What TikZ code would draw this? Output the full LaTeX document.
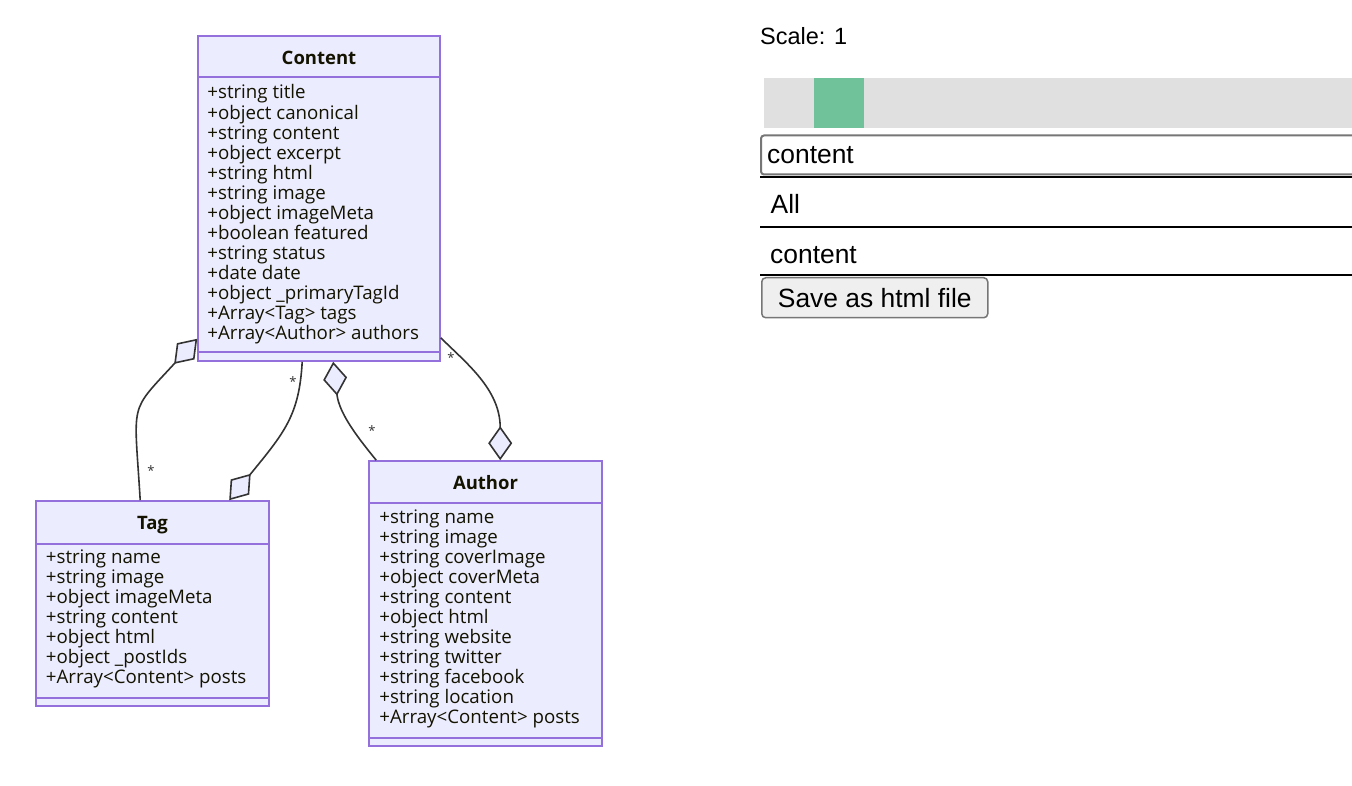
\documentclass[tikz,border=0pt]{standalone}
\usepackage{fontspec}
\setmainfont{Open Sans}
\newfontfamily\uifont{Liberation Sans}
\usepackage{tikz}
\usetikzlibrary{arrows.meta,positioning,calc,fit}

\definecolor{classfill}{HTML}{ECECFF}
\definecolor{classborder}{HTML}{9370DB}
\definecolor{classtext}{HTML}{131300}
\definecolor{linkgray}{HTML}{333333}
\definecolor{bargray}{HTML}{E0E0E0}
\definecolor{barsel}{RGB}{112,194,155}
\definecolor{fieldgray}{HTML}{767676}
\definecolor{buttonfill}{HTML}{EFEFEF}

\begin{document}
\begin{tikzpicture}[
        x=1pt, y=-1pt,
        classbox/.style={rectangle, draw=classborder, fill=classfill, line width=1.6pt, inner sep=0pt},
        classline/.style={draw=classborder, line width=1.6pt},
        classtitle/.style={font=\bfseries\fontsize{18.5}{20}\selectfont, text=classtext, inner sep=0pt, anchor=base},
        attrs/.style={font=\fontsize{18.7}{20}\selectfont, text=classtext, align=left, inner sep=0pt, anchor=north west},
        link/.style={draw=linkgray, line width=1.6pt},
        agg/.style={link, -{Diamond[length=34pt, width=24pt, fill=classfill]}},
        card/.style={font=\fontsize{13}{13}\selectfont, text=linkgray, inner sep=0pt},
        uitext/.style={font=\uifont\fontsize{26.4}{30}\selectfont, inner sep=0pt, anchor=base west},
        uibutton/.style={draw=fieldgray, fill=buttonfill, line width=1.5pt, rounded corners=4pt, font=\uifont\fontsize{26.4}{30}\selectfont, inner sep=0pt},
        sepline/.style={draw=black, line width=2.2pt}
    ]
        \clip (0,0) rectangle (1352,786);
        \fill[white] (0,0) rectangle (1352,786);

        % Classes
        \node[classbox, fit={(198,36) (440,361)}] (content) {};
        \node[classbox, fit={(36,501) (269,706)}] (tag) {};
        \node[classbox, fit={(369,461) (602,746)}] (author) {};

        \draw[classline] ($(content.north west)+(0,42)$) -- ($(content.north east)+(0,42)$);
        \draw[classline] ($(content.south west)+(0,-10)$) -- ($(content.south east)+(0,-10)$);
        \draw[classline] ($(tag.north west)+(0,44)$) -- ($(tag.north east)+(0,44)$);
        \draw[classline] ($(tag.south west)+(0,-9)$) -- ($(tag.south east)+(0,-9)$);
        \draw[classline] ($(author.north west)+(0,43)$) -- ($(author.north east)+(0,43)$);
        \draw[classline] ($(author.south west)+(0,-9)$) -- ($(author.south east)+(0,-9)$);

        \node[classtitle] (contentTitle) at ($(content.north)+(0,29.3)$) {Content};
        \node[classtitle] (tagTitle) at ($(tag.north)+(0,29.7)$) {Tag};
        \node[classtitle] (authorTitle) at ($(author.north)+(0,29.7)$) {Author};

        \node[attrs] (contentAttrs) at ($(content.north west)+(10,48.8)$) {\strut+string title\\+object canonical\\+string content\\+object excerpt\\+string html\\+string image\\+object imageMeta\\+boolean featured\\+string status\\+date date\\+object \_primaryTagId\\+Array<Tag> tags\\+Array<Author> authors};
        \node[attrs] (tagAttrs) at ($(tag.north west)+(10.5,48.8)$) {\strut+string name\\+string image\\+object imageMeta\\+string content\\+object html\\+object \_postIds\\+Array<Content> posts};
        \node[attrs] (authorAttrs) at ($(author.north west)+(11,48.8)$) {\strut+string name\\+string image\\+string coverImage\\+object coverMeta\\+string content\\+object html\\+string website\\+string twitter\\+string facebook\\+string location\\+Array<Content> posts};

        % Relations
        \draw[agg] ($(tag.north west)+(105,0)$) .. controls +(-6,-101) and +(-69,75) .. ($(content.south west)+(0,-23)$);
        \draw[agg] ($(content.south west)+(105,0)$) .. controls +(-3,54) and +(55,-67.5) .. ($(tag.north west)+(194,0)$);
        \draw[agg] ($(author.north west)+(8,0)$) .. controls +(-17,-21) and +(6,52.5) .. ($(content.south west)+(136,0)$);
        \draw[agg] ($(content.south east)+(0,-24)$) .. controls +(25,25) and +(0,-71) .. ($(author.north west)+(132,0)$);

        \node[card] (cardTag) at (151,471) {*};
        \node[card] (cardContentA) at (293,382) {*};
        \node[card] (cardAuthor) at (372,431) {*};
        \node[card] (cardContentB) at (451,358) {*};

        % Controls
        \node[uitext, font=\uifont\fontsize{23.5}{28}\selectfont] (scaleLabel) at (760,45) {Scale: 1};
        \fill[bargray] (764,78) rectangle (1352,128);
        \fill[barsel] (814,78) rectangle (864,128);
        \draw[fieldgray, line width=2pt, rounded corners=3pt] (761,135.5) rectangle (1380,174.5);
        \node[uitext] (searchField) at (767,164) {content};
        \draw[sepline] (760,177) -- (1352,177);
        \node[uitext] (filterAll) at (770.5,214) {All};
        \draw[sepline] (760,226.7) -- (1352,226.7);
        \node[uitext] (filterContent) at (770,264) {content};
        \draw[sepline] (760,275) -- (1352,275);
        \node[uibutton, minimum width=226pt, minimum height=40pt, anchor=north west] (saveButton) at (761,277) {Save as html file};
    \end{tikzpicture}
\end{document}
